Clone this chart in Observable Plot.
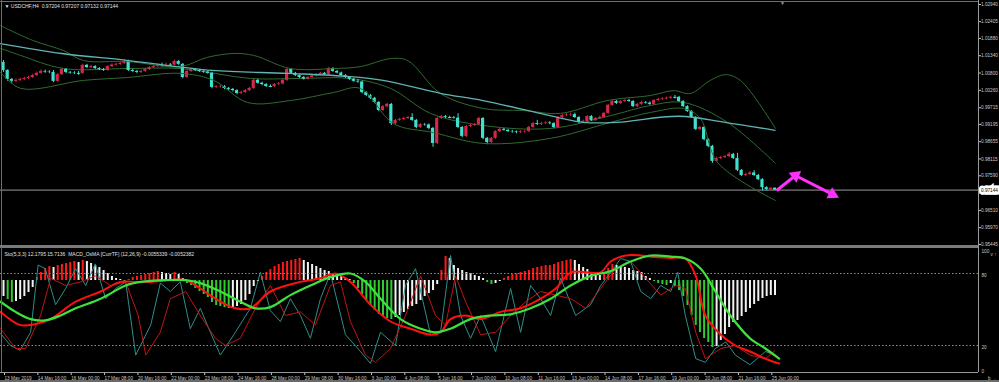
<!DOCTYPE html>
<html><head><meta charset="utf-8">
<script src="https://cdn.jsdelivr.net/npm/d3@7"></script>
<script src="https://cdn.jsdelivr.net/npm/@observablehq/plot@0.6"></script>
<style>
html,body{margin:0;padding:0;background:#000;}
#root{position:relative;width:999px;height:382px;background:#000;overflow:hidden;font-family:"Liberation Sans",Arial,sans-serif;}
#root svg{position:absolute;left:0;}
.ln{position:absolute;}
</style></head><body><div id="root"></div>
<script>
// ---------- data ----------
const symbol = "USDCHF", timeframe = "H4";
const firstOpen = 1.0113;
const close = [
1.0088,1.0060,1.0054,1.0057,1.0060,1.0063,1.0066,1.0072,1.0079,1.0085,
1.0083,1.0082,1.0054,1.0075,1.0091,1.0082,1.0080,1.0079,1.0079,1.0104,
1.0097,1.0100,1.0094,1.0091,1.0088,1.0100,1.0105,1.0107,1.0110,1.0116,
1.0088,1.0085,1.0082,1.0085,1.0091,1.0097,1.0100,1.0104,1.0104,1.0105,
1.0105,1.0116,1.0107,1.0066,1.0085,1.0091,1.0088,1.0085,1.0083,1.0079,
1.0035,1.0037,1.0038,1.0032,1.0029,1.0025,1.0016,1.0019,1.0025,1.0032,
1.0057,1.0048,1.0044,1.0038,1.0038,1.0044,1.0046,1.0057,1.0091,1.0079,
1.0072,1.0066,1.0061,1.0066,1.0071,1.0075,1.0079,1.0075,1.0094,1.0085,
1.0080,1.0072,1.0066,1.0060,1.0054,1.0052,1.0019,1.0010,1.0001,0.9988,
0.9963,0.9975,0.9982,0.9922,0.9932,0.9935,0.9938,0.9941,0.9932,0.9910,
0.9919,0.9918,0.9907,0.9860,0.9938,0.9944,0.9941,0.9941,0.9939,0.9910,
0.9882,0.9913,0.9916,0.9919,0.9938,0.9876,0.9863,0.9876,0.9897,0.9904,
0.9901,0.9897,0.9896,0.9894,0.9896,0.9897,0.9910,0.9922,0.9919,0.9922,
0.9924,0.9922,0.9910,0.9941,0.9947,0.9949,0.9950,0.9941,0.9926,0.9929,
0.9944,0.9932,0.9938,0.9941,0.9954,0.9979,0.9991,0.9985,0.9991,0.9994,
0.9991,0.9975,0.9982,0.9988,0.9986,0.9982,0.9994,0.9997,0.9999,1.0001,
1.0004,1.0004,0.9991,0.9975,0.9960,0.9941,0.9904,0.9910,0.9872,0.9851,
0.9804,0.9813,0.9816,0.9819,0.9826,0.9813,0.9776,0.9760,0.9763,0.9768,
0.9760,0.9747,0.9722,0.9716,0.97204,0.97144];
const high = [
1.0119,1.0090,1.0063,1.0061,1.0064,1.0067,1.0070,1.0076,1.0083,1.0090,
1.0089,1.0087,1.0088,1.0078,1.0095,1.0094,1.0085,1.0084,1.0085,1.0108,
1.0107,1.0104,1.0103,1.0097,1.0094,1.0103,1.0109,1.0111,1.0114,1.0121,
1.0120,1.0091,1.0088,1.0089,1.0094,1.0100,1.0104,1.0108,1.0111,1.0111,
1.0110,1.0120,1.0119,1.0110,1.0088,1.0094,1.0094,1.0091,1.0089,1.0086,
1.0082,1.0041,1.0042,1.0041,1.0035,1.0032,1.0028,1.0023,1.0028,1.0035,
1.0061,1.0060,1.0051,1.0047,1.0043,1.0047,1.0050,1.0060,1.0095,1.0094,
1.0082,1.0075,1.0069,1.0069,1.0074,1.0078,1.0082,1.0082,1.0098,1.0097,
1.0088,1.0083,1.0075,1.0069,1.0063,1.0060,1.0055,1.0022,1.0013,1.0004,
0.9991,0.9978,0.9986,0.9985,0.9935,0.9939,0.9942,0.9945,0.9953,0.9935,
0.9922,0.9922,0.9921,0.9910,0.9942,0.9948,0.9947,0.9945,0.9944,0.9953,
0.9913,0.9916,0.9920,0.9923,0.9942,0.9941,0.9879,0.9879,0.9900,0.9907,
0.9907,0.9904,0.9901,0.9899,0.9900,0.9901,0.9913,0.9926,0.9932,0.9926,
0.9928,0.9928,0.9925,0.9944,0.9951,0.9953,0.9955,0.9955,0.9944,0.9933,
0.9947,0.9947,0.9941,0.9945,0.9957,0.9982,0.9995,0.9994,0.9994,0.9998,
0.9998,0.9994,0.9985,0.9992,0.9991,0.9990,0.9997,1.0001,1.0003,1.0005,
1.0008,1.0010,1.0007,0.9994,0.9978,0.9963,0.9944,0.9913,0.9913,0.9875,
0.9854,0.9817,0.9820,0.9823,0.9832,0.9829,0.9829,0.9779,0.9767,0.9772,
0.9775,0.9763,0.9750,0.9725,0.97207,0.97207];
const low = [
1.0082,1.0054,1.0048,1.0050,1.0054,1.0057,1.0060,1.0063,1.0069,1.0076,
1.0079,1.0078,1.0050,1.0051,1.0072,1.0078,1.0076,1.0075,1.0073,1.0076,
1.0094,1.0094,1.0091,1.0088,1.0085,1.0085,1.0097,1.0102,1.0104,1.0107,
1.0085,1.0081,1.0078,1.0079,1.0082,1.0088,1.0094,1.0097,1.0099,1.0100,
1.0100,1.0102,1.0104,1.0062,1.0063,1.0082,1.0085,1.0082,1.0079,1.0076,
1.0031,1.0031,1.0033,1.0028,1.0025,1.0021,1.0012,1.0013,1.0016,1.0022,
1.0029,1.0045,1.0040,1.0035,1.0034,1.0035,1.0041,1.0043,1.0054,1.0076,
1.0069,1.0063,1.0058,1.0058,1.0063,1.0068,1.0072,1.0072,1.0072,1.0082,
1.0077,1.0069,1.0063,1.0057,1.0051,1.0048,1.0015,1.0006,0.9997,0.9984,
0.9959,0.9960,0.9972,0.9916,0.9918,0.9929,0.9932,0.9935,0.9929,0.9906,
0.9907,0.9914,0.9903,0.9848,0.9857,0.9935,0.9938,0.9937,0.9936,0.9906,
0.9878,0.9879,0.9910,0.9913,0.9916,0.9872,0.9856,0.9860,0.9873,0.9894,
0.9898,0.9894,0.9892,0.9890,0.9891,0.9892,0.9894,0.9907,0.9916,0.9916,
0.9919,0.9918,0.9906,0.9907,0.9938,0.9944,0.9945,0.9938,0.9922,0.9923,
0.9926,0.9929,0.9929,0.9935,0.9938,0.9951,0.9976,0.9982,0.9982,0.9988,
0.9988,0.9972,0.9972,0.9979,0.9983,0.9979,0.9979,0.9991,0.9994,0.9996,
0.9998,0.9999,0.9988,0.9972,0.9957,0.9938,0.9900,0.9901,0.9868,0.9847,
0.9798,0.9801,0.9810,0.9813,0.9816,0.9810,0.9772,0.9757,0.9757,0.9760,
0.9757,0.9744,0.9712,0.9712,0.9713,0.97132];

// moving average (cyan) read at sample bars
const maBars   = [-0.7, 14, 30, 50, 68, 83, 91, 105, 115, 133, 139, 147, 162, 173, 185];
const maValues = [1.0172,1.0141,1.0119,1.0088,1.0079,1.0069,1.0057,1.0016,0.9994,0.9941,0.9926,0.9926,0.9945,0.9926,0.9901];
// Bollinger bands (green) read at sample bars
const bbUpperBars = [-0.7,7,14.4,19.2,29.7,42.4,48.9,55.2,60,68.8,79.1,85.6,92.8,96.9,104.8,115.1,124.7,133.6,144.8,155.2,160.7,164.7,169.5,173.1,176.7,185.1];
const bbUpper     = [1.0228,1.0182,1.0150,1.0119,1.0116,1.0100,1.0129,1.0141,1.0135,1.0094,1.0094,1.0100,1.0125,1.0119,1.0016,0.9969,0.9963,0.9954,0.9994,1.0010,1.0025,1.0016,1.0057,1.0075,1.0057,0.9907];
const bbMidBars = [-0.7,4.1,14.4,29.7,42.4,59.2,71.2,83.2,92.8,102.4,115.1,131.2,145.6,155.2,163.1,173.6,185.1];
const bbMid     = [1.0157,1.0135,1.0094,1.0094,1.0094,1.0063,1.0063,1.0063,1.0032,0.9954,0.9916,0.9907,0.9947,0.9979,0.9988,0.9926,0.9798];
const bbLowerBars = [-0.7,4.1,19.2,29.7,42.4,50.4,58.5,68.8,79.1,85.6,93.5,103.1,115.1,131.2,145.6,155.2,163.1,167.1,171.2,185.1];
const bbLower     = [1.0082,1.0032,1.0057,1.0066,1.0079,1.0057,0.9988,0.9994,1.0019,1.0032,0.9922,0.9894,0.9860,0.9876,0.9926,0.9957,0.9969,0.9938,0.9801,0.9682];

// hand-drawn arrows (bar, price)
const arrowBars   = [185.4, 189.9, 198.8];
const arrowPrices = [0.9713, 0.9760, 0.9701];

const priceTicks = [1.02940,1.02405,1.01880,1.01340,1.00800,1.00260,0.99715,0.99195,0.98655,0.98115,0.97590,0.97050,0.96510,0.95970,0.95445];

// lower window: MACD OsMA histogram
const osma = [
-0.00032,-0.00038,-0.00044,-0.00042,-0.00038,-0.00032,-0.00024,-0.00014,0.00006,0.00016,
0.00024,0.00028,0.00026,0.00030,0.00032,0.00034,0.00036,0.00038,0.00036,0.00040,
0.00038,0.00034,0.00030,0.00026,0.00020,0.00014,0.00008,0.00004,0.00002,-0.00002,
0.00002,0.00006,0.00008,0.00010,0.00012,0.00014,0.00016,0.00018,0.00016,0.00014,
0.00012,0.00016,0.00012,0.00004,-0.00006,-0.00010,-0.00016,-0.00022,-0.00028,-0.00034,
-0.00044,-0.00050,-0.00052,-0.00054,-0.00056,-0.00054,-0.00052,-0.00048,-0.00040,-0.00028,
-0.00012,-0.00002,0.00008,0.00016,0.00022,0.00028,0.00032,0.00036,0.00038,0.00040,
0.00042,0.00044,0.00040,0.00036,0.00032,0.00028,0.00024,0.00020,0.00018,0.00014,
0.00010,0.00008,0.00004,0.00002,-0.00006,-0.00016,-0.00028,-0.00040,-0.00050,-0.00060,
-0.00068,-0.00072,-0.00076,-0.00078,-0.00074,-0.00070,-0.00064,-0.00058,-0.00052,-0.00048,
-0.00040,-0.00032,-0.00026,-0.00020,-0.00008,0.00020,0.00048,0.00044,0.00030,0.00024,
0.00020,0.00016,0.00014,0.00010,0.00008,0.00004,-0.00004,-0.00008,-0.00006,-0.00002,
0.00004,0.00008,0.00012,0.00014,0.00016,0.00018,0.00020,0.00024,0.00026,0.00028,
0.00030,0.00030,0.00032,0.00036,0.00038,0.00040,0.00042,0.00040,0.00032,0.00026,
0.00022,0.00016,0.00012,0.00010,0.00016,0.00024,0.00032,0.00030,0.00028,0.00026,
0.00024,0.00020,0.00018,0.00016,0.00008,0.00004,-0.00002,-0.00006,-0.00008,-0.00010,
-0.00006,-0.00012,-0.00020,-0.00032,-0.00050,-0.00070,-0.00090,-0.00104,-0.00116,-0.00124,
-0.00134,-0.00132,-0.00120,-0.00108,-0.00094,-0.00084,-0.00080,-0.00072,-0.00064,-0.00056,
-0.00048,-0.00042,-0.00036,-0.00032,-0.00030,-0.0003];

// stochastic %K (thin teal) and %D (thin red)
const stochKBars = [-0.7,1.7,4,6.5,8.3,10,12.5,14.9,17.3,19.7,22,24.5,26.9,29.3,31.7,35.3,37.6,40,42.4,44.8,47.2,49.6,52,55.6,59.2,61.6,64,66.4,68.8,71.2,73.6,76,78.4,82,85.6,88,90.4,94,96.4,98.8,102.4,104.8,107.2,109.6,112,114.4,118,121.6,124,126.4,128.8,131.2,133.6,137.2,140.8,143.2,145.6,148,150.4,152.8,155.2,157.6,160,161.7,163.5,166,168.3,170.7,173.2,175.5,179,182.7,185];
const stochK     = [30,20,16,31,87,84,54,67.5,84,70,88,59,67.5,73,12,37,72,65,73,34,51,31,12,31,51,81,49,40,59,45,26,59,80,29,15,5,31,20,70,84,29,31,95,45,26,45,15,67.5,31,70,59,45,76,45,54,70,81,92.5,90,65,59,70,65,81,45,9,6,17.5,23,12,4,15,12.1795];
const stochDBars = [-0.7,2.9,5.3,8.9,11.3,14.9,18.5,22,25.7,29.3,32.3,34.1,37.6,40,43.7,47.2,50.8,53.2,56.8,60.4,64,67.6,71.2,74.8,78.4,80.8,83.2,86.8,89.2,92.8,96.4,100,103.6,106,108.4,110.8,114.4,118,121.6,125.2,128.8,132.4,136,139.6,143.2,146.8,150.4,154,157.6,161.2,163.5,166,168.3,172,175.5,179,182.7,185];
const stochD     = [34,17.5,17.5,45,76,70,73,78,70,73,45,12,31,59,65,45,26,20,26,51,70,45,48,37,70,73,40,12,6,17.5,45,78,45,37,78,56.5,29,31,45,56.5,65,62,59,51,67.5,84,90,76,62,70,67.5,31,9,17.5,20,12,9,15.7136];
// thick red and thick green lines
const redLineBars = [-0.7,4.1,7.7,11.3,17.3,23.3,28,31.7,35.3,40,43.7,47.2,50.8,55.6,59.2,64,71.2,76,79.6,83.2,88,92.8,97.6,102.4,104.8,107.2,110.8,114.4,119.2,124,128.8,132.4,136,139.6,143.2,145.6,149.2,152.8,155.2,160,163.5,166,168.3,172,175.5,179,182.7,186];
const redLine     = [48,37,38,42,56.5,65,73,73,73,74.5,74.5,67.5,59,51,51,65,73,76,80,73,54,40,34,29,31,42,45,42,48,51,59,67.5,81,81,81,90,95,95,94,93,92.5,78,45,29,20,15,9,5];
const greenLineBars = [-0.7,2.9,6.5,10,13.7,17.3,23.3,29.3,32.9,38.8,43.7,47.2,52,56.8,60.4,64,68.8,73.6,78.4,83.2,86.8,90.4,95.2,100,103.6,107.2,112,116.8,121.6,126.4,131.2,136,140.8,145.6,150.4,155.2,160,163.5,167.2,170.7,174.3,179,182.7,186];
const greenLine     = [56.5,48,42,41,45,51,59,70,73,74.5,74.5,72,65,56.5,51,52,62,70,77,80,73,59,42,34,31,34,42,45,46,51,59,70,78,82,90,95,94,92.5,84,65,45,26,17.5,9];

const oscTicks = [100, 80, 20, 0];
const oscLevels = [80, 20];
const timeLabels = ["13 May 2019","14 May 16:00","16 May 00:00","17 May 08:00","20 May 16:00","22 May 00:00","23 May 08:00","24 May 16:00","28 May 00:00","29 May 08:00","30 May 16:00","3 Jun 00:00","4 Jun 08:00","5 Jun 16:00","7 Jun 00:00","10 Jun 08:00","11 Jun 16:00","13 Jun 00:00","14 Jun 08:00","17 Jun 16:00","19 Jun 00:00","20 Jun 08:00","21 Jun 16:00","25 Jun 00:00"];
const timeBars = [0,8,16,24,32,40,48,56,64,72,80,88,96,104,112,120,128,136,144,152,160,168,176,184];
const subTitle = "Sto(5,3,3) 12.1795 15.7136  MACD_OsMA [CurrTF] (12,26,9) -0.0055339 -0.0052382";

// ---------- build ----------
const root = document.getElementById("root");
const W = 999, MR = 21;
const xDomain = [-0.72, 233.8];
const yMain = [0.95382, 1.03065];
const UP = "#d3284a", DN = "#40e0d0", BAND = "#2f6a2f", MA = "#5fb4b4", PINK = "#ff30ff";
const FONT = "Liberation Sans, Arial, sans-serif";

const bars = close.map((c, i) => ({i, open: i ? close[i-1] : firstOpen, close: c, high: high[i], low: low[i]}));
const col = d => d.close > d.open ? UP : DN;
const series = (bx, vy) => bx.map((b, k) => ({b, v: vy[k]}));
const last = bars[bars.length - 1];
const header = `\u25BC ${symbol},${timeframe}  ${last.open.toFixed(5)} ${last.high.toFixed(5)} ${last.low.toFixed(5)} ${last.close.toFixed(5)}`;

// arrow head directions in screen space, from the same scales the plot uses
const sx = Plot.scale({x: {domain: xDomain, range: [0, W - MR]}});
const sy = Plot.scale({y: {domain: yMain, range: [246, 0]}});
const heads = [1, 2].map(k => {
  const dx = sx.apply(arrowBars[k]) - sx.apply(arrowBars[k-1]);
  const dy = sy.apply(arrowPrices[k]) - sy.apply(arrowPrices[k-1]);
  return {b: arrowBars[k], p: arrowPrices[k], rot: Math.atan2(dx, -dy) * 180 / Math.PI};
});

const main = Plot.plot({
  width: W, height: 246, marginTop: 0, marginBottom: 0, marginLeft: 0, marginRight: MR,
  style: {background: "transparent", fontFamily: FONT, overflow: "visible"},
  x: {domain: xDomain, axis: null},
  y: {domain: yMain, axis: null},
  marks: [
    Plot.ruleY([last.close], {stroke: "#9c9c9c", strokeWidth: 1}),
    Plot.line(series(bbMidBars, bbMid), {x: "b", y: "v", stroke: BAND, strokeWidth: 1, curve: "catmull-rom"}),
    Plot.ruleX(bars, {x: "i", y1: "low", y2: "high", stroke: col, strokeWidth: 1}),
    Plot.rect(bars, {x1: d => d.i - 0.38, x2: d => d.i + 0.38, y1: "open", y2: "close", fill: col}),
    Plot.link(bars.filter(d => d.open === d.close), {x1: d => d.i - 0.4, x2: d => d.i + 0.4, y1: "close", y2: "close", stroke: DN}),
    Plot.line(series(bbUpperBars, bbUpper), {x: "b", y: "v", stroke: BAND, strokeWidth: 1, curve: "catmull-rom"}),
    Plot.line(series(bbLowerBars, bbLower), {x: "b", y: "v", stroke: BAND, strokeWidth: 1, curve: "catmull-rom"}),
    Plot.line(series(maBars, maValues), {x: "b", y: "v", stroke: MA, strokeWidth: 1.3, curve: "catmull-rom"}),
    Plot.link([0, 1], {x1: k => arrowBars[k], y1: k => arrowPrices[k], x2: k => arrowBars[k+1], y2: k => arrowPrices[k+1],
      stroke: PINK, strokeWidth: 3}),
    Plot.dot(heads, {x: "b", y: "p", rotate: "rot", symbol: "triangle2", r: 6, fill: PINK, stroke: "none"}),
    Plot.axisY(priceTicks, {anchor: "right", tickSize: 2, tickPadding: 0.5, fontSize: 4.7, color: "#c8c8c8", tickFormat: d => d.toFixed(5)}),
    Plot.text([last.close], {x: () => xDomain[1], y: d => d, text: d => d.toFixed(5), dx: 2.5, textAnchor: "start", fontSize: 4.7,
      fill: "#000", stroke: "#fff", strokeWidth: 5, strokeLinejoin: "miter", paintOrder: "stroke"}),
    Plot.text([header], {frameAnchor: "top-left", dx: 4, dy: 4, fontSize: 5, fill: "#e0e0e0", text: d => d}),
    Plot.text(["\u25BC"], {x: () => 186.8, frameAnchor: "top", dy: 1, fontSize: 5, fill: "#9a9a9a", text: d => d})
  ]
});
main.style.top = "0px";

const hist = Plot.plot({
  width: W, height: 123, marginTop: 0, marginBottom: 0, marginLeft: 0, marginRight: MR,
  style: {background: "transparent", overflow: "visible"},
  x: {domain: xDomain, axis: null},
  y: {domain: [-0.00184, 0.00062], axis: null},
  marks: [
    Plot.ruleX(osma.map((v, i) => ({i, v, prev: i ? osma[i-1] : v})), {
      x: "i", y1: () => 0, y2: "v", strokeWidth: 2,
      stroke: d => d.v >= 0 ? (d.v >= d.prev ? "#ff1a1a" : "#f2f2f2") : (d.v < d.prev ? "#2ecc2e" : "#f2f2f2")})
  ]
});
hist.style.top = "249px";

const osc = Plot.plot({
  width: W, height: 133, marginTop: 0, marginBottom: 10, marginLeft: 0, marginRight: MR,
  style: {background: "transparent", fontFamily: FONT, overflow: "visible"},
  x: {domain: xDomain, axis: null},
  y: {domain: [-2.5, 100], axis: null},
  marks: [
    Plot.ruleY(oscLevels, {stroke: "#8a8a8a", strokeDasharray: "1.5,2", strokeWidth: 1}),
    Plot.line(series(stochKBars, stochK), {x: "b", y: "v", stroke: "#2e8f8a", strokeWidth: 1}),
    Plot.line(series(stochDBars, stochD), {x: "b", y: "v", stroke: "#c01515", strokeWidth: 1}),
    Plot.line(series(redLineBars, redLine), {x: "b", y: "v", stroke: "#ff1010", strokeWidth: 2, curve: "catmull-rom"}),
    Plot.line(series(greenLineBars, greenLine), {x: "b", y: "v", stroke: "#3ee23e", strokeWidth: 2.2, curve: "catmull-rom"}),
    Plot.axisY(oscTicks, {anchor: "right", tickSize: 0, tickPadding: 3, fontSize: 4.7, color: "#c8c8c8", dy: 1.5}),
    Plot.axisX(timeBars, {anchor: "bottom", tickSize: 3, tickPadding: 1, fontSize: 4.7, color: "#c8c8c8", textAnchor: "start", dx: 1,
      tickFormat: d => timeLabels[timeBars.indexOf(d)]}),
    Plot.text([subTitle], {frameAnchor: "top-left", dx: 4, dy: 3, fontSize: 5, fill: "#e0e0e0", text: d => d})
  ]
});
osc.style.top = "249px";

root.append(hist, osc, main);

// frame lines
function line(l, t, w, h, c) {
  const d = document.createElement("div");
  d.className = "ln";
  Object.assign(d.style, {left: l + "px", top: t + "px", width: w + "px", height: h + "px", background: c});
  root.append(d);
}
line(0, 1, 978, 1, "#6e6e6e");
line(1, 0, 1, 372, "#6e6e6e");
line(978, 0, 1, 372, "#9a9a9a");
line(0, 245, 978, 3, "#7a7a7a");
line(0, 372, 978, 1, "#9a9a9a");
line(0, 380, 999, 2, "#6a6a6a");
</script></body></html>
